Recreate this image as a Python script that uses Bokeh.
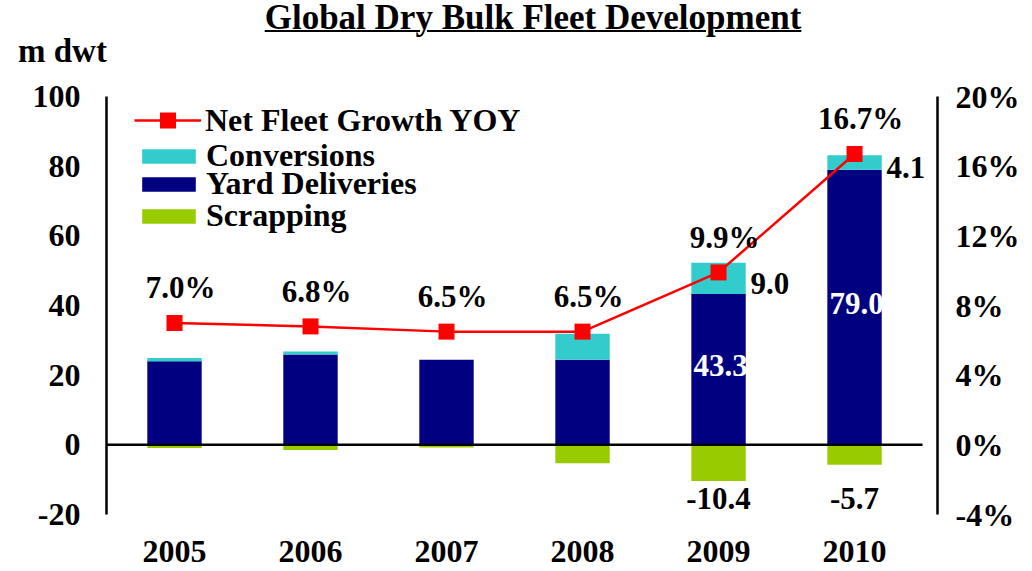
from bokeh.plotting import figure
from bokeh.models import (ColumnDataSource, Range1d, LinearAxis, FixedTicker,
                          PrintfTickFormatter, Legend, LegendItem, Div)
from bokeh.layouts import column
from bokeh.core.properties import value
from bokeh.embed import file_html
from bokeh.resources import INLINE

# ---------------- data ----------------
years = ["2005", "2006", "2007", "2008", "2009", "2010"]
yard_deliveries = [24.0, 25.9, 24.4, 24.4, 43.3, 79.0]
conversions = [0.9, 0.9, 0.0, 7.5, 9.0, 4.1]
scrapping = [-0.9, -1.5, -0.8, -5.3, -10.4, -5.7]
net_growth_pct = [7.0, 6.8, 6.5, 6.5, 9.9, 16.7]
labelled_years = ["2009", "2010"]
left_ticks = [-20, 0, 20, 40, 60, 80, 100]
right_ticks = [-4, 0, 4, 8, 12, 16, 20]

FONT = "Liberation Serif"
NAVY = "#000080"
CYAN = "#33CCCC"
GREEN = "#99CC00"
RED = "#FF0000"

xs = list(range(len(years)))
src = ColumnDataSource(dict(
    x=xs,
    yard=yard_deliveries,
    conv_top=[y + c for y, c in zip(yard_deliveries, conversions)],
    scrap=scrapping,
    pct=net_growth_pct,
    pct_label=[f"{v:.1f}%" for v in net_growth_pct],
))

idx = [years.index(y) for y in labelled_years]
lab = ColumnDataSource(dict(
    x=[xs[i] for i in idx],
    yard_mid=[yard_deliveries[i] / 2 for i in idx],
    yard_txt=[f"{yard_deliveries[i]:.1f}" for i in idx],
    conv_mid=[yard_deliveries[i] + conversions[i] / 2 for i in idx],
    conv_txt=[f"{conversions[i]:.1f}" for i in idx],
    scrap_y=[min(scrapping) for i in idx],
    scrap_txt=[f"{scrapping[i]:.1f}" for i in idx],
))

# ---------------- figure ----------------
p = figure(width=1032, height=500,
           x_range=Range1d(-0.5, 5.61), y_range=Range1d(min(left_ticks), max(left_ticks)),
           output_backend="svg", toolbar_location=None,
           min_border_left=106, min_border_right=95, min_border_top=26, min_border_bottom=56,
           outline_line_color=None, background_fill_color="white")
p.extra_y_ranges = {"pct": Range1d(min(right_ticks), max(right_ticks))}
p.xgrid.visible = False
p.ygrid.visible = False


def style_axis(ax):
    ax.axis_line_color = "black"
    ax.axis_line_width = 2.5
    ax.major_tick_line_color = None
    ax.minor_tick_line_color = None
    ax.major_label_text_font = FONT
    ax.major_label_text_font_style = "bold"
    ax.major_label_text_font_size = "32px"
    ax.major_label_text_color = "black"


yax = p.yaxis[0]
yax.ticker = FixedTicker(ticks=left_ticks)
yax.formatter = PrintfTickFormatter(format="%d")
style_axis(yax)
yax.major_label_standoff = 20

rax = LinearAxis(y_range_name="pct", ticker=FixedTicker(ticks=right_ticks),
                 formatter=PrintfTickFormatter(format="%d%%"))
style_axis(rax)
rax.major_label_standoff = 12
p.add_layout(rax, "right")

xax = p.xaxis[0]
xax.ticker = FixedTicker(ticks=xs)
xax.major_label_overrides = {i: y for i, y in zip(xs, years)}
style_axis(xax)
xax.axis_line_color = None
xax.major_label_standoff = 20

# bars
BW = 0.4
r_yard = p.vbar(x="x", bottom=0, top="yard", width=BW, source=src,
                fill_color=NAVY, line_color=None)
r_conv = p.vbar(x="x", bottom="yard", top="conv_top", width=BW, source=src,
                fill_color=CYAN, line_color=None)
r_scrap = p.vbar(x="x", bottom=0, top="scrap", width=BW, source=src,
                 fill_color=GREEN, line_color=None)

# zero line across category slots
p.segment(x0=[xs[0] - 0.5], x1=[xs[-1] + 0.5], y0=[0], y1=[0],
          line_color="black", line_width=2.5)

# growth line
r_line = p.line("x", "pct", source=src, y_range_name="pct",
                line_color=RED, line_width=2.5)
r_mark = p.scatter("x", "pct", source=src, y_range_name="pct", marker="square",
                   size=16, fill_color=RED, line_color=None)

txt = dict(text_font=value(FONT), text_font_style="bold", text_font_size="31px")
p.text("x", "pct", text="pct_label", source=src, y_range_name="pct",
       x_offset=6, y_offset=-35, text_align="center", text_baseline="middle",
       text_color="black", **txt)

# value labels
p.text("x", "yard_mid", text="yard_txt", source=lab, x_offset=2, y_offset=-4,
       text_align="center", text_baseline="middle", text_color="white", **txt)
p.text("x", "conv_mid", text="conv_txt", source=lab, x_offset=32, y_offset=5,
       text_align="left", text_baseline="middle", text_color="black", **txt)
p.text("x", "scrap_y", text="scrap_txt", source=lab, y_offset=17,
       text_align="center", text_baseline="middle", text_color="black", **txt)

# legends (one per row, to reproduce the tight row pitch)
leg_common = dict(label_text_font=FONT, label_text_font_style="bold",
                  label_text_font_size="32px", label_text_color="black",
                  padding=0, margin=0, border_line_color=None,
                  background_fill_alpha=0, label_standoff=4, glyph_width=67)
legend_rows = [
    ("Net Fleet Growth YOY", [r_line, r_mark], (28, 374), 40),
    ("Conversions", [r_conv], (29, 340), 18),
    ("Yard Deliveries", [r_yard], (29, 312), 18),
    ("Scrapping", [r_scrap], (29, 280), 18),
]
for label, rends, loc, gh in legend_rows:
    p.add_layout(Legend(items=[LegendItem(label=label, renderers=rends)],
                        location=loc, glyph_height=gh, **leg_common))

html = (
    '<div style="position:relative;width:1032px;height:70px;'
    'font-family:\'Liberation Serif\';font-weight:bold;color:black;">'
    '<div style="position:absolute;left:233px;top:0px;width:600px;text-align:center;'
    'font-size:35px;line-height:1;text-decoration:underline;'
    'text-decoration-thickness:2px;white-space:nowrap;">Global Dry Bulk Fleet Development</div>'
    '<div style="position:absolute;left:18px;top:35px;font-size:33px;line-height:1;'
    'white-space:nowrap;">m dwt</div>'
    '</div>'
)
title_div = Div(text=html, width=1032, height=70, margin=0)

layout = column(title_div, p, spacing=0)
open("out.html", "w").write(file_html(layout, INLINE))
